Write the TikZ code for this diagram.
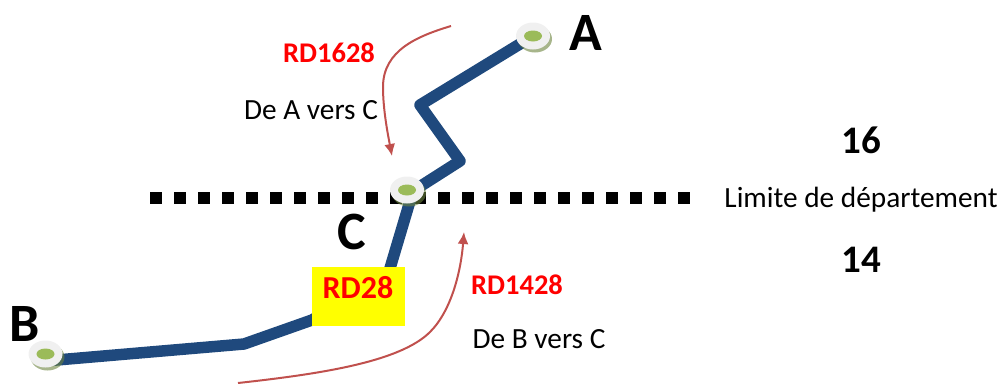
\documentclass[tikz,border=0pt]{standalone}
\usepackage{fontspec}
\setmainfont{Carlito}
\usetikzlibrary{arrows.meta,shapes.geometric}
\definecolor{roadblue}{HTML}{1F497D}
\definecolor{arrowred}{HTML}{C0504D}
\definecolor{stopgreen}{HTML}{9BBB59}
\definecolor{boxyellow}{HTML}{FFFF00}
\definecolor{rdred}{HTML}{FF0000}
\tikzset{
  road/.style={draw=roadblue,line width=11.5pt,line join=round},
  limit/.style={draw=black,line width=12pt,dash pattern=on 12pt off 12pt},
  flow/.style={draw=arrowred,line width=2pt,-{Latex[length=12pt,width=11pt]}},
  stopshadow/.style={ellipse,fill=stopgreen!70!black,opacity=0.6,minimum width=34pt,minimum height=27pt,inner sep=0pt},
  stopdisc/.style={ellipse,fill=black!6,minimum width=34pt,minimum height=27pt,inner sep=0pt},
  stopdot/.style={ellipse,fill=stopgreen,minimum width=18pt,minimum height=11pt,inner sep=0pt},
  letter/.style={font=\fontsize{54}{54}\selectfont\bfseries},
  dept/.style={font=\fontsize{39}{39}\selectfont\bfseries},
  rdname/.style={font=\fontsize{28.5}{28.5}\selectfont\bfseries,text=rdred},
  plain/.style={font=\fontsize{29.3}{29.3}\selectfont}
}
\begin{document}
\begin{tikzpicture}[x=1pt,y=-1pt]
  \useasboundingbox (0,0) rectangle (1004,383);
  %limite
  \coordinate (limitW) at (150,198);
  \coordinate (limitE) at (692,198);
  \draw[limit] (limitW) -- (limitE);
  %route
  \coordinate (stopA) at (533,36);
  \coordinate (bendA) at (420,105);
  \coordinate (bendB) at (460,161);
  \coordinate (stopC) at (413,191);
  \coordinate (bendC) at (388,275);
  \coordinate (bendD) at (244,344);
  \coordinate (stopB) at (45,361);
  \draw[road] (stopA) -- (bendA) -- (bendB) -- (stopC) -- (bendC) -- (312,320) -- (bendD) -- (stopB);
  \node[fill=boxyellow,minimum width=93pt,minimum height=59pt,inner sep=0pt] (rd28) at (358.5,296.5) {};
  \node[rdname,font=\fontsize{32}{32}\selectfont\bfseries] (rd28label) at (358,288) {RD28};
  %arrets
  \foreach \name/\x/\y in {a/533/36,c/407/190,b/45.5/354}{
    \node[stopshadow] (\name shadow) at (\x+2,\y+3) {};
    \node[stopdisc] (\name disc) at (\x,\y) {};
    \node[stopdot] (\name dot) at (\x,\y) {};
  }
  %fleches
  \coordinate (flowAstart) at (451,26);
  \coordinate (flowAend) at (392,156);
  \coordinate (flowBstart) at (238,383);
  \coordinate (flowBend) at (464,232);
  \draw[flow] (flowAstart) .. controls (418,36) and (383,50) .. (383,87) .. controls (383,110) and (388,135) .. (flowAend);
  \draw[flow] (flowBstart) .. controls (320,374) and (400,362) .. (430,332) .. controls (452,310) and (461,270) .. (flowBend);
  %textes
  \node[letter] (labelA) at (586,33) {A};
  \node[letter] (labelB) at (24.5,324) {B};
  \node[letter] (labelC) at (352,232) {C};
  \node[dept] (dept16) at (861,140) {16};
  \node[dept] (dept14) at (861,260) {14};
  \node[plain] (limitlabel) at (861,200) {Limite de département};
  \node[rdname] (rd1628) at (329,53) {RD1628};
  \node[plain] (fromA) at (311,110) {De A vers C};
  \node[rdname] (rd1428) at (517,285) {RD1428};
  \node[plain] (fromB) at (539,339) {De B vers C};
\end{tikzpicture}
\end{document}
